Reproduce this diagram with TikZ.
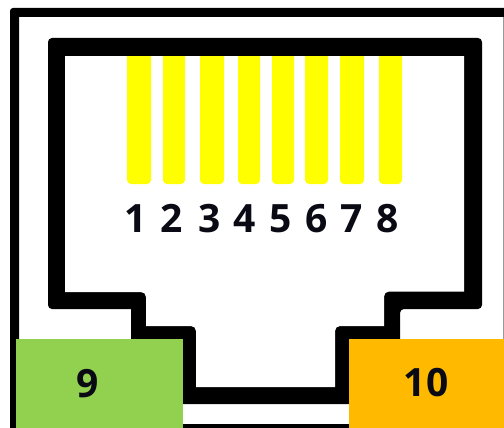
\documentclass[tikz,border=0pt]{standalone}
\usepackage{fontspec}
\setmainfont{Open Sans}[BoldFont={Open Sans Bold}]
\definecolor{padgreen}{HTML}{92D050}
\definecolor{padorange}{HTML}{FFBA00}
\definecolor{pinyellow}{HTML}{FFFF00}
\definecolor{inkblack}{HTML}{0A0A14}
\begin{document}
\begin{tikzpicture}[x=1pt,y=-1pt,
  pinbar/.style={fill=pinyellow,draw=none},
  digit/.style={font=\bfseries\fontsize{39}{39}\selectfont,inner sep=0pt,text=inkblack},
  padbox/.style={draw=none,inner sep=0pt,anchor=north west}]
\useasboundingbox (0,0) rectangle (504,428);
\fill[white] (0,0) rectangle (504,428);
% outer frame
\fill[black] (10,428) [rounded corners=3pt] -- (10,8) [sharp corners] -- (504,8) -- (504,17) -- (19,17) -- (19,428) -- cycle;
\fill[black] (183,424) rectangle (349,428);
\draw[black!40,line width=0.8pt] (503.6,17) -- (503.6,339);
% plug contour
\fill[black] [rounded corners=4pt] (48,38) -- (482,38) -- (482,309) -- (400,309) [sharp corners] -- (400,345) -- (349,345) -- (349,404) -- (183,404) -- (183,345) -- (131,345) -- (131,309) [rounded corners=4pt] -- (48,309) -- cycle;
\fill[white] (65,56) -- (464,56) -- (464,291.5) [rounded corners=5pt] -- (384,291.5) [sharp corners] -- (384,326) [rounded corners=5pt] -- (335,326) [sharp corners] -- (335,387) -- (196,387) [rounded corners=5pt] -- (196,326) [sharp corners] -- (146,326) [rounded corners=5pt] -- (146,292) [sharp corners] -- (65,292) -- cycle;
% pins
\foreach \a/\b in {127/151,163/185,200/224,238/260,272/294,305/328,340/364,379/402}{
  \fill[pinbar,rounded corners=4pt] (\a,50) -- (\a,184) -- (\b,184) -- (\b,50) -- cycle;
}
\fill[black] (60,38) rectangle (470,56);
% labels
\node[digit] (n1) at (136,218.5) {1};
\node[digit] (n2) at (172,218.5) {2};
\node[digit] (n3) at (210,218.5) {3};
\node[digit] (n4) at (245,218.5) {4};
\node[digit] (n5) at (281,218.5) {5};
\node[digit] (n6) at (317,218.5) {6};
\node[digit] (n7) at (352,218.5) {7};
\node[digit] (n8) at (388,218.5) {8};
% pads
\node[padbox,fill=padgreen,minimum width=167pt,minimum height=89pt] (p9) at (16,339) {};
\node[padbox,fill=padorange,minimum width=155pt,minimum height=89pt] (p10) at (349,339) {};
\node[digit] (t9) at (88,383.5) {9};
\node[digit] (t10) at (426,383) {10};
\end{tikzpicture}
\end{document}
